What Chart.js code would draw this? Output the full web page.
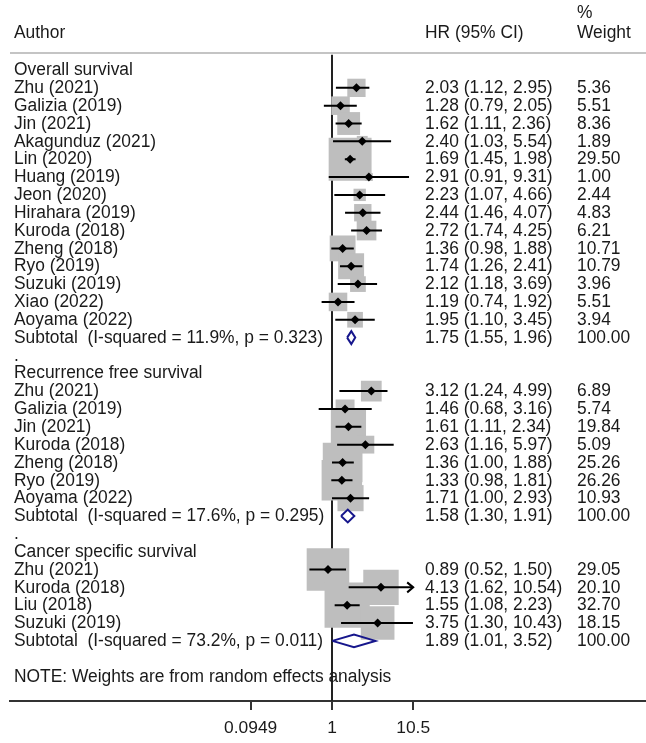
<!DOCTYPE html>
<html>
<head>
<meta charset="utf-8">
<script src="https://cdn.jsdelivr.net/npm/chart.js@4"></script>
<style>
  body { margin: 0; background: #fff; }
</style>
</head>
<body>
<canvas id="forest" width="646" height="743"></canvas>
<script>
// --- data ---
const groupNames = ['Overall survival', 'Recurrence free survival', 'Cancer specific survival'];

const osAuthors = ['Zhu (2021)', 'Galizia (2019)', 'Jin (2021)', 'Akagunduz (2021)', 'Lin (2020)', 'Huang (2019)',
  'Jeon (2020)', 'Hirahara (2019)', 'Kuroda (2018)', 'Zheng (2018)', 'Ryo (2019)', 'Suzuki (2019)', 'Xiao (2022)', 'Aoyama (2022)'];
const osHR     = [2.03, 1.28, 1.62, 2.40, 1.69, 2.91, 2.23, 2.44, 2.72, 1.36, 1.74, 2.12, 1.19, 1.95];
const osLower  = [1.12, 0.79, 1.11, 1.03, 1.45, 0.91, 1.07, 1.46, 1.74, 0.98, 1.26, 1.18, 0.74, 1.10];
const osUpper  = [2.95, 2.05, 2.36, 5.54, 1.98, 9.31, 4.66, 4.07, 4.25, 1.88, 2.41, 3.69, 1.92, 3.45];
const osWeight = [5.36, 5.51, 8.36, 1.89, 29.50, 1.00, 2.44, 4.83, 6.21, 10.71, 10.79, 3.96, 5.51, 3.94];

const rfsAuthors = ['Zhu (2021)', 'Galizia (2019)', 'Jin (2021)', 'Kuroda (2018)', 'Zheng (2018)', 'Ryo (2019)', 'Aoyama (2022)'];
const rfsHR     = [3.12, 1.46, 1.61, 2.63, 1.36, 1.33, 1.71];
const rfsLower  = [1.24, 0.68, 1.11, 1.16, 1.00, 0.98, 1.00];
const rfsUpper  = [4.99, 3.16, 2.34, 5.97, 1.88, 1.81, 2.93];
const rfsWeight = [6.89, 5.74, 19.84, 5.09, 25.26, 26.26, 10.93];

const cssAuthors = ['Zhu (2021)', 'Kuroda (2018)', 'Liu (2018)', 'Suzuki (2019)'];
const cssHR     = [0.89, 4.13, 1.55, 3.75];
const cssLower  = [0.52, 1.62, 1.08, 1.30];
const cssUpper  = [1.50, 10.54, 2.23, 10.43];
const cssWeight = [29.05, 20.10, 32.70, 18.15];

const subHR    = [1.75, 1.58, 1.89];
const subLower = [1.55, 1.30, 1.01];
const subUpper = [1.96, 1.91, 3.52];
const subI2    = ['11.9', '17.6', '73.2'];
const subP     = ['0.323', '0.295', '0.011'];

const tickValues = [0.0949, 1, 10.5];
const tickLabels = ['0.0949', '1', '10.5'];
const noteText = 'NOTE: Weights are from random effects analysis';

// --- build the row table ---
const groups = [
  { authors: osAuthors, hr: osHR, lo: osLower, hi: osUpper, w: osWeight },
  { authors: rfsAuthors, hr: rfsHR, lo: rfsLower, hi: rfsUpper, w: rfsWeight },
  { authors: cssAuthors, hr: cssHR, lo: cssLower, hi: cssUpper, w: cssWeight }
];

const rows = [];
let r = 0;
groups.forEach((g, gi) => {
  rows.push({ row: r++, label: groupNames[gi], kind: 'head' });
  g.authors.forEach((a, i) => {
    rows.push({ row: r++, label: a, kind: 'study', hr: g.hr[i], lo: g.lo[i], hi: g.hi[i], w: g.w[i] });
  });
  rows.push({ row: r++, label: 'Subtotal  (I-squared = ' + subI2[gi] + '%, p = ' + subP[gi] + ')', kind: 'sub',
    hr: subHR[gi], lo: subLower[gi], hi: subUpper[gi], w: 100 });
  if (gi < groups.length - 1) rows.push({ row: r++, label: '.', kind: 'gap' });
});
const noteRow = r + 1;

const studies = rows.filter(d => d.kind === 'study');
const subs = rows.filter(d => d.kind === 'sub');
const axisMax = tickValues[tickValues.length - 1];

// CI segments, broken by gaps; upper ends past the axis are clipped (arrow added by plugin)
const ciData = [];
studies.forEach(d => {
  ciData.push({ x: d.lo, y: d.row }, { x: Math.min(d.hi, axisMax), y: d.row }, { x: null, y: null });
});

const diamondHalf = 0.36;
const subData = [];
subs.forEach(d => {
  subData.push({ x: d.lo, y: d.row }, { x: d.hr, y: d.row - diamondHalf }, { x: d.hi, y: d.row },
    { x: d.hr, y: d.row + diamondHalf }, { x: d.lo, y: d.row }, { x: null, y: null });
});

// layout of the log axis: 1 sits at x=332, ~79.5 px per decade
const padLeft = 10;
const nullPx = 332, pxPerDecade = 79.5, chartW = 646;
const xMin = Math.pow(10, -(nullPx - padLeft) / pxPerDecade);
const xMax = Math.pow(10, (chartW - nullPx) / pxPerDecade);
const yMin = -3.924, yMax = 35.37;

const FONT = '"Liberation Sans", Arial, sans-serif';
const FSIZE = 17.4;
const TEXT = '#1a1a1a';

// Stata's text is a touch taller than Liberation Sans at the same width
function tallText(ctx, str, x, y) {
  ctx.save();
  ctx.translate(x, y);
  ctx.scale(1, 1.08);
  ctx.fillText(str, 0, 0);
  ctx.restore();
}

const forestText = {
  id: 'forestText',
  beforeDatasetsDraw(chart) {
    const { ctx, scales: { x, y }, chartArea } = chart;
    ctx.save();
    // header rule
    ctx.strokeStyle = '#c4c4c4';
    ctx.lineWidth = 2;
    ctx.beginPath();
    ctx.moveTo(chartArea.left, y.getPixelForValue(-0.95));
    ctx.lineTo(chartArea.right, y.getPixelForValue(-0.95));
    ctx.stroke();
    // line of no effect
    ctx.strokeStyle = '#222';
    ctx.lineWidth = 2;
    ctx.beginPath();
    ctx.moveTo(x.getPixelForValue(1), y.getPixelForValue(-0.85));
    ctx.lineTo(x.getPixelForValue(1), chartArea.bottom);
    ctx.stroke();
    ctx.restore();
  },
  afterDatasetsDraw(chart) {
    const { ctx, scales: { x, y } } = chart;
    ctx.save();
    // arrow heads on clipped CIs
    ctx.strokeStyle = '#000';
    ctx.lineWidth = 2;
    studies.filter(d => d.hi > axisMax).forEach(d => {
      const px = x.getPixelForValue(axisMax), py = y.getPixelForValue(d.row);
      ctx.beginPath();
      ctx.moveTo(px - 6, py - 5);
      ctx.lineTo(px, py);
      ctx.lineTo(px - 6, py + 5);
      ctx.stroke();
    });
    // text columns
    ctx.fillStyle = TEXT;
    ctx.font = FSIZE + 'px ' + FONT;
    ctx.textBaseline = 'middle';
    const colA = 14, colHR = 425, colW = 577;
    tallText(ctx, 'Author', colA, y.getPixelForValue(-2.07));
    tallText(ctx, 'HR (95% CI)', colHR, y.getPixelForValue(-2.07));
    tallText(ctx, '%', colW, y.getPixelForValue(-3.2));
    tallText(ctx, 'Weight', colW, y.getPixelForValue(-2.07));
    rows.forEach(d => {
      const py = y.getPixelForValue(d.row);
      tallText(ctx, d.label, colA, py);
      if (d.kind === 'study' || d.kind === 'sub') {
        tallText(ctx, d.hr.toFixed(2) + ' (' + d.lo.toFixed(2) + ', ' + d.hi.toFixed(2) + ')', colHR, py);
        tallText(ctx, d.w.toFixed(2), colW, py);
      }
    });
    tallText(ctx, noteText, colA, y.getPixelForValue(noteRow));
    ctx.restore();
  }
};

new Chart(document.getElementById('forest').getContext('2d'), {
  type: 'scatter',
  data: {
    datasets: [
      {
        label: 'Point estimate',
        data: studies.map(d => ({ x: d.hr, y: d.row })),
        pointStyle: 'rectRot',
        pointRadius: 4.5,
        backgroundColor: '#000',
        borderWidth: 0,
        order: 1
      },
      {
        label: 'Subtotal',
        type: 'line',
        data: subData,
        borderColor: '#16168c',
        borderWidth: 2,
        pointRadius: 0,
        spanGaps: false,
        fill: false,
        order: 2
      },
      {
        label: '95% CI',
        type: 'line',
        data: ciData,
        borderColor: '#000',
        borderWidth: 2,
        pointRadius: 0,
        spanGaps: false,
        fill: false,
        order: 3
      },
      {
        label: 'Weight',
        data: studies.map(d => ({ x: d.hr, y: d.row })),
        pointStyle: 'rect',
        // box side ~7.9 px * sqrt(weight); rect radius = side / sqrt(2)
        pointRadius: studies.map(d => 7.9 * Math.sqrt(d.w) / Math.SQRT2),
        backgroundColor: '#bebebe',
        borderWidth: 0,
        order: 4
      }
    ]
  },
  options: {
    responsive: false,
    animation: false,
    events: [],
    layout: { autoPadding: false, padding: { left: padLeft, right: 0, top: 0, bottom: 0 } },
    plugins: { legend: { display: false }, tooltip: { enabled: false } },
    scales: {
      x: {
        type: 'logarithmic',
        min: xMin,
        max: xMax,
        bounds: 'data',
        afterBuildTicks: s => { s.ticks = tickValues.map(v => ({ value: v })); },
        afterFit: s => { s.height = 42; },
        border: { display: true, color: '#333', width: 2 },
        grid: { display: true, drawOnChartArea: false, drawTicks: true, tickLength: 9, color: '#333', lineWidth: 2 },
        ticks: {
          autoSkip: false,
          maxRotation: 0,
          padding: 8,
          color: TEXT,
          font: { size: FSIZE, family: FONT },
          callback: (v, i) => tickLabels[i]
        }
      },
      y: {
        type: 'linear',
        reverse: true,
        min: yMin,
        max: yMax,
        display: false
      }
    }
  },
  plugins: [forestText]
});
</script>
</body>
</html>
